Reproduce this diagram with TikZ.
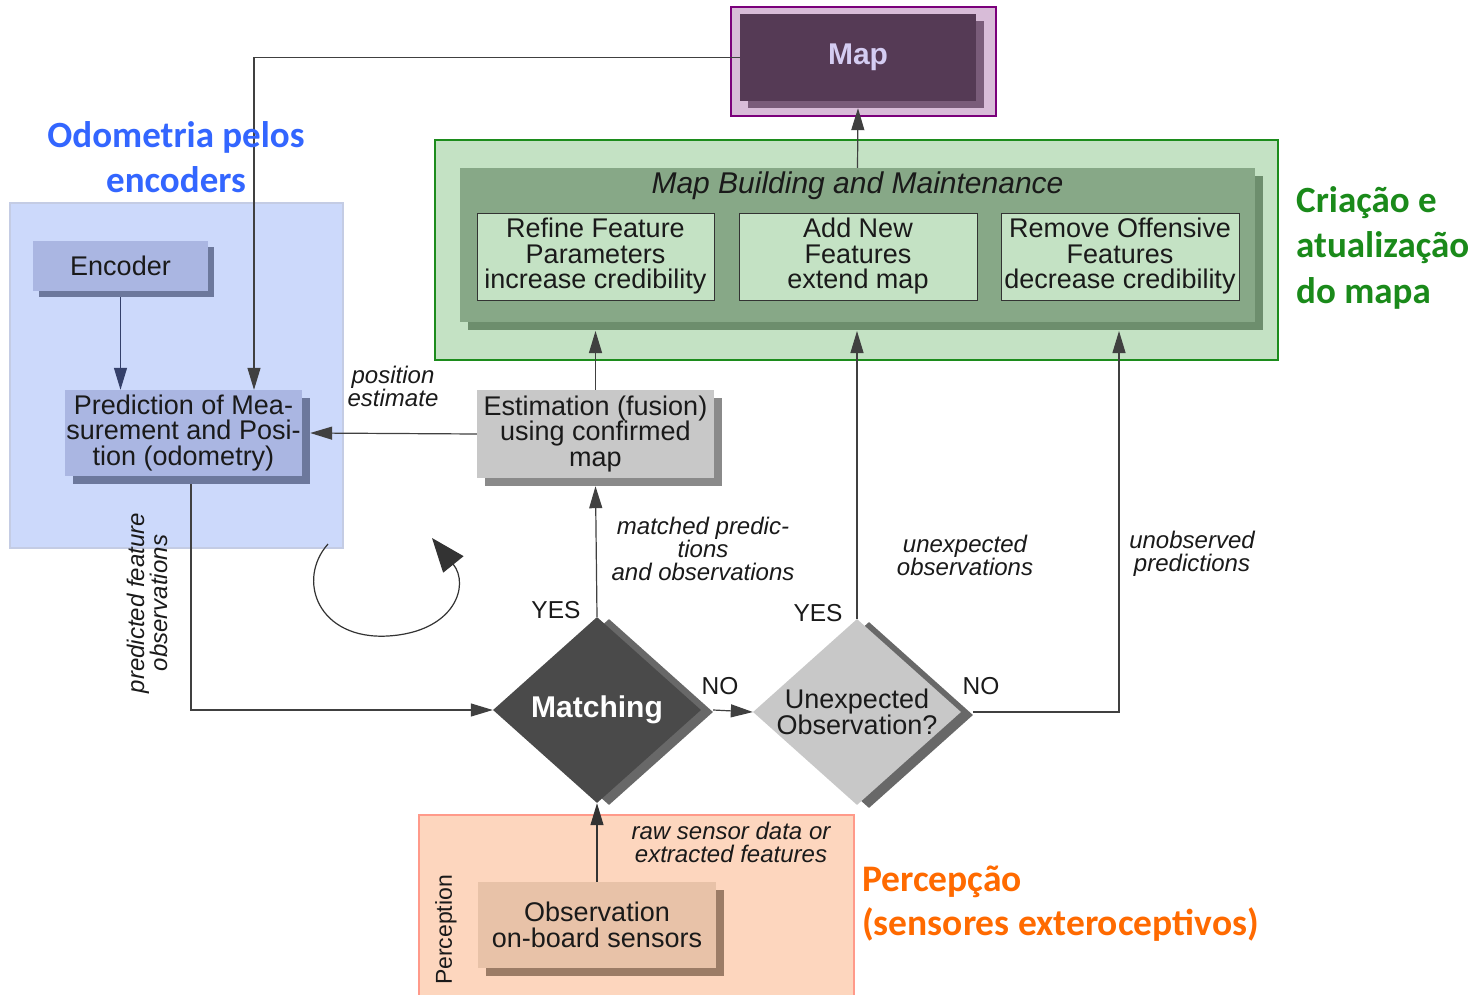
\documentclass[tikz,border=0pt]{standalone}
\usepackage{fontspec}
\setmainfont{Liberation Sans}
\newfontfamily\carl{Carlito}
\usetikzlibrary{shapes.geometric,shadows,arrows.meta,calc}
\definecolor{blueReg}{HTML}{CCD9FB}
\definecolor{blueRegB}{HTML}{C4CCE4}
\definecolor{blueBox}{HTML}{AAB6E2}
\definecolor{blueSh}{HTML}{6C789C}
\definecolor{blueLine}{HTML}{34406A}
\definecolor{greenReg}{HTML}{C4E2C4}
\definecolor{greenRegB}{HTML}{1C8C1C}
\definecolor{greenIn}{HTML}{87A887}
\definecolor{greenSh}{HTML}{6D8E6D}
\definecolor{grayBox}{HTML}{C8C8C8}
\definecolor{graySh}{HTML}{8A8A8A}
\definecolor{dark}{HTML}{4A4A4A}
\definecolor{darkSh}{HTML}{686868}
\definecolor{percReg}{HTML}{FDD6BE}
\definecolor{percRegB}{HTML}{FF9A8A}
\definecolor{percBox}{HTML}{E8C2A8}
\definecolor{percSh}{HTML}{9C7C66}
\definecolor{mapReg}{HTML}{D8BCD8}
\definecolor{mapRegB}{HTML}{7B007B}
\definecolor{mapIn}{HTML}{553A55}
\definecolor{mapSh}{HTML}{7A5C7A}
\definecolor{mapTxt}{HTML}{D4CCF2}
\definecolor{odoC}{HTML}{3366FF}
\definecolor{criaC}{HTML}{1A8A1A}
\definecolor{percC}{HTML}{FF6A00}
\definecolor{txt}{HTML}{1A1A1A}
\begin{document}
\begin{tikzpicture}[x=1pt,y=-1pt,
  region/.style={rectangle, inner sep=0pt},
  box/.style={rectangle, inner sep=0pt, align=center, text=txt, font=\fontsize{27}{25.5}\selectfont},
  lbl/.style={inner sep=0pt, align=center, text=txt, font=\itshape\fontsize{24}{23}\selectfont},
  yn/.style={inner sep=0pt, text=txt, font=\fontsize{24.5}{24}\selectfont},
  arr/.style={draw=black!75, line width=1.2pt, -{Triangle[length=22pt,width=13pt]}},
  line/.style={draw=black!75, line width=1.2pt},
]
\useasboundingbox (0,0) rectangle (1482,995);
\fill[white] (0,0) rectangle (1482,995);

% regions
\node[region, fill=blueReg, draw=blueRegB, line width=1.5pt, minimum width=333pt, minimum height=345pt] (bluereg) at (176.5,375.5) {};
\node[region, fill=greenReg, draw=greenRegB, line width=2pt, minimum width=843pt, minimum height=220pt] (greenreg) at (856.5,250) {};
\node[region, fill=percReg, draw=percRegB, line width=1.5pt, minimum width=435pt, minimum height=190pt] (percreg) at (636.5,910) {};
\node[region, fill=mapReg, draw=mapRegB, line width=2pt, minimum width=265pt, minimum height=109pt] (mapreg) at (863.5,61.5) {};

% Map
\node[box, fill=mapIn, drop shadow={shadow xshift=8pt, shadow yshift=-7pt, fill=mapSh, opacity=1}, minimum width=236pt, minimum height=87pt, text=mapTxt, font=\bfseries\fontsize{30}{30}\selectfont] (map) at (858,57.5) {Map};

% Map building
\node[box, fill=greenIn, drop shadow={shadow xshift=8pt, shadow yshift=-8pt, fill=greenSh, opacity=1}, minimum width=795pt, minimum height=154pt] (mbm) at (857.5,245) {};
\node[box, font=\itshape\fontsize{30}{30}\selectfont] (mbmt) at (857.5,186) {Map Building and Maintenance};
\node[box, fill=greenReg, draw=black!80, line width=0.8pt, minimum width=237pt, minimum height=87pt] (refine) at (595.5,256.5) {Refine Feature\\Parameters\\increase credibility};
\node[box, fill=greenReg, draw=black!80, line width=0.8pt, minimum width=238pt, minimum height=87pt] (addnew) at (858,256.5) {Add New\\Features\\extend map};
\node[box, fill=greenReg, draw=black!80, line width=0.8pt, minimum width=238pt, minimum height=87pt] (remove) at (1120,256.5) {Remove Offensive\\Features\\decrease credibility};
\coordinate (mbbot) at (857,331);

% blue region boxes
\node[box, fill=blueBox, drop shadow={shadow xshift=6pt, shadow yshift=-6pt, fill=blueSh, opacity=1}, minimum width=175pt, minimum height=50pt] (enc) at (120.5,266) {Encoder};
\node[box, fill=blueBox, drop shadow={shadow xshift=8pt, shadow yshift=-8pt, fill=blueSh, opacity=1}, minimum width=237pt, minimum height=86pt] (pred) at (183.5,433) {Prediction of Mea-\\surement and Posi-\\tion (odometry)};

% estimation
\node[box, fill=grayBox, drop shadow={shadow xshift=8pt, shadow yshift=-8pt, fill=graySh, opacity=1}, minimum width=237pt, minimum height=88pt] (est) at (595.5,434) {Estimation (fusion)\\using confirmed\\map};

% diamonds
\node[diamond, inner sep=0pt, fill=dark, drop shadow={shadow xshift=12pt, shadow yshift=-2pt, fill=darkSh, opacity=1}, minimum width=208pt, minimum height=186pt] (match) at (597,710) {};
\node[inner sep=0pt, text=white, font=\bfseries\fontsize{30}{30}\selectfont] (matcht) at (match.center) {Matching};
\node[diamond, inner sep=0pt, fill=grayBox, drop shadow={shadow xshift=12pt, shadow yshift=-3pt, fill=darkSh, opacity=1}, minimum width=208pt, minimum height=186pt] (unexp) at (857,712) {};
\node[box] (unexpt) at (unexp.center) {Unexpected\\Observation?};

% observation
\node[box, fill=percBox, drop shadow={shadow xshift=8pt, shadow yshift=-8pt, fill=percSh, opacity=1}, minimum width=238pt, minimum height=86pt] (obs) at (597,925) {Observation\\on-board sensors};
\node[yn, rotate=90, font=\fontsize{23}{23}\selectfont] (perct) at (446,930) {Perception};

% connectors
\draw[arr] (map.west) -| ([xshift=70.5pt]pred.north);
\draw[arr] (mbm.north) -- ($(map.south)+(0,7)$);
\draw[arr, draw=blueLine] ($(enc.south)+(0,6)$) -- (enc.south |- pred.north);
\draw[arr] (est.west) -- ($(pred.east)+(8,0)$);
\draw[arr] (est.north) -- (est.north |- mbbot);
\draw[arr] (match.north) -- ($(est.south)+(0,8)$);
\draw[arr] (unexp.north) -- (unexp.north |- mbbot);
\draw[arr] ($(unexp.east)+(12,0)$) -| ([xshift=262pt]mbbot);
\draw[arr] ($(match.east)+(12,0)$) -- (unexp.west);
\draw[arr] ($(pred.south)+(7.5,8)$) |- (match.west);
\draw[arr, draw=black!80] (obs.north) -- (match.south);

% loop arrow
\draw[line width=1.2pt, draw=black!80, -{Triangle[length=34pt,width=26pt]}] (328,544) .. controls (296,580) and (318,640) .. (388,636) .. controls (455,632) and (470,585) .. (432,538);

% labels
\node[lbl] (posest) at (393,386) {position\\estimate};
\node[lbl] (matchedl) at (703,549) {matched predic-\\tions\\and observations};
\node[lbl] (unexpl) at (965,555) {unexpected\\observations};
\node[lbl] (unobsl) at (1192,554) {unobserved\\predictions};
\node[lbl] (rawl) at (731,842) {raw sensor data or\\extracted features};
\node[lbl, rotate=90] (predl) at (147,603) {predicted feature\\observations};
\node[yn] (yes1) at (556,610) {YES};
\node[yn] (yes2) at (818,613) {YES};
\node[yn] (no1) at (720,686) {NO};
\node[yn] (no2) at (981,686) {NO};

% colored annotations
\node[inner sep=0pt, align=center, text=odoC, font=\carl\bfseries\fontsize{37}{45}\selectfont] (odo) at (176,157) {Odometria pelos\\encoders};
\node[inner sep=0pt, align=left, anchor=west, text=criaC, font=\carl\bfseries\fontsize{37}{45.5}\selectfont] (cria) at (1296,247.5) {Criação e\\atualização\\do mapa};
\node[inner sep=0pt, align=left, anchor=west, text=percC, font=\carl\bfseries\fontsize{37.5}{44}\selectfont] (perc) at (862,904) {Percepção\\(sensores exteroceptivos)};
\end{tikzpicture}
\end{document}
